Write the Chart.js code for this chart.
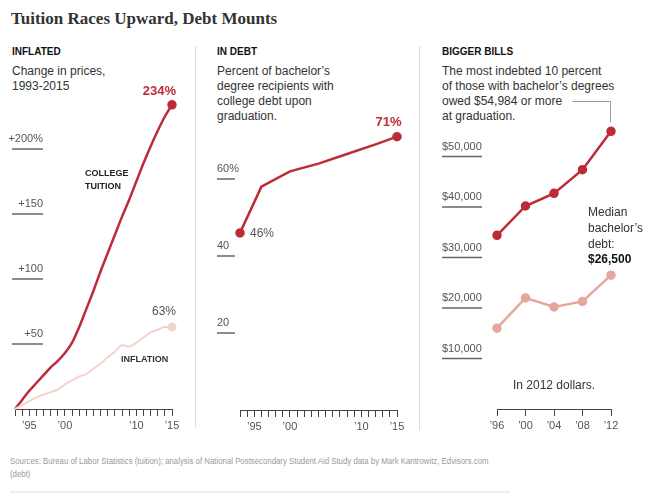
<!DOCTYPE html>
<html>
<head>
<meta charset="utf-8">
<script src="https://cdn.jsdelivr.net/npm/chart.js@4.4.1/dist/chart.umd.min.js"></script>
<style>
  body { margin: 0; background: #fff; }
  #page { position: relative; width: 658px; height: 498px; font-family: "Liberation Sans", Arial, sans-serif; color: #333; overflow: hidden; }
  .abs { position: absolute; white-space: nowrap; }
  .head { top: 46px; font-size: 10px; font-weight: bold; line-height: 12px; color: #111; }
  .desc { top: 63.5px; font-size: 12px; line-height: 15px; color: #333; }
  .tag { font-size: 9px; font-weight: bold; line-height: 12.7px; color: #222; }
  .sep { position: absolute; top: 46px; width: 1px; background: #ddd; }
  canvas { position: absolute; top: 0; }
</style>
</head>
<body>
<div id="page">
  <div class="abs" style="left:11px;top:9px;font:bold 17px 'Liberation Serif','Times New Roman',serif;line-height:20px;color:#333">Tuition Races Upward, Debt Mounts</div>

  <div class="abs head" style="left:12px">INFLATED</div>
  <div class="abs desc" style="left:12px">Change in prices,<br>1993-2015</div>

  <div class="abs head" style="left:217px">IN DEBT</div>
  <div class="abs desc" style="left:217px">Percent of bachelor’s<br>degree recipients with<br>college debt upon<br>graduation.</div>

  <div class="abs head" style="left:442px">BIGGER BILLS</div>
  <div class="abs desc" style="left:442px">The most indebted 10 percent<br>of those with bachelor’s degrees<br>owed $54,984 or more<br>at graduation.</div>

  <div class="sep" style="left:195px;height:382px"></div>
  <div class="sep" style="left:419px;height:384px"></div>

  <canvas id="inflated" width="198" height="440" style="left:0"></canvas>
  <canvas id="indebt" width="218" height="440" style="left:200px"></canvas>
  <canvas id="bills" width="238" height="440" style="left:420px"></canvas>

  <div class="abs tag" style="left:85px;top:167px">COLLEGE<br>TUITION</div>
  <div class="abs tag" style="left:121px;top:353px;color:#333">INFLATION</div>
  <div class="abs" style="left:513px;top:377.5px;font-size:12px;line-height:15px;color:#333">In 2012 dollars.</div>

  <div class="abs" style="left:10px;top:455px;font-size:8.5px;line-height:13px;color:#999;transform:scaleX(0.92);transform-origin:0 0">Sources: Bureau of Labor Statistics (tuition); analysis of National Postsecondary Student Aid Study data by Mark Kantrowitz, Edvisors.com<br>(debt)</div>
  <div class="abs" style="left:10px;top:491px;width:500px;height:2px;background:#eee"></div>
</div>

<script>
"use strict";

// Inflated: change in prices since 1993, percent
const priceYears = [1993, 1994, 1995, 1996, 1997, 1998, 1999, 2000, 2001, 2002, 2003, 2004,
                    2005, 2006, 2007, 2008, 2009, 2010, 2011, 2012, 2013, 2014, 2015];
const tuitionChange = [0, 7, 14, 20, 26, 32, 37, 43, 51, 63, 77, 91,
                       106, 120, 134, 148, 161, 175, 189, 202, 214, 225, 234];
const inflationChange = [0, 3, 6, 9, 11, 13, 15, 19, 22, 25, 27, 31,
                         35, 40, 44, 49, 48, 51, 55, 59, 61, 63, 63];
const priceTicks = [50, 100, 150, 200];
const priceYearLabels = [1995, 2000, 2010, 2015];

// In debt: percent of bachelor's recipients with debt
const debtYears = [1993, 1996, 2000, 2004, 2008, 2012, 2015];
const debtShare = [46, 58, 62, 64, 66.5, 69, 71];
const debtTicks = [20, 40, 60];
const debtYearLabels = [1995, 2000, 2010, 2015];

// Bigger bills: debt at graduation, 2012 dollars
const billYears = [1996, 2000, 2004, 2008, 2012];
const topTenthDebt = [34400, 40200, 42700, 47400, 54984];
const medianDebt = [16000, 22000, 20200, 21300, 26500];
const billTicks = [10000, 20000, 30000, 40000, 50000];

const sans = "'Liberation Sans', Arial, sans-serif";
const red = '#bd2b38';
const pink = '#f4d3ce';
const salmon = '#e6a69d';

Chart.defaults.font.family = sans;
Chart.defaults.color = '#555';

function points(xs, ys) {
    return xs.map((x, i) => ({x: x, y: ys[i]}));
}

function shortYear(v, keep) {
    if (keep && !keep.includes(v)) return '';
    return '\u2019' + String(v).slice(2);
}

// x axis: baseline with ticks hanging below it
function yearAxis(min, max, step, keep) {
    return {
        type: 'linear', min: min, max: max,
        afterFit: s => { s.height = 30; },
        border: {display: true, color: '#444', width: 1},
        grid: {drawOnChartArea: false, drawTicks: true, tickLength: 7, color: '#444', lineWidth: 1},
        ticks: {stepSize: step, autoSkip: false, maxRotation: 0, padding: 3,
                font: {size: 11}, color: '#555', callback: v => shortYear(v, keep)}
    };
}

// short rule with the value written above it, placed by the y scale
function ruleLabels(chart, ticks, fmt, x0, x1, align) {
    const ctx = chart.ctx;
    const y = chart.scales.y;
    ctx.save();
    ctx.font = '11px ' + sans;
    ctx.fillStyle = '#555';
    ctx.strokeStyle = '#666';
    ctx.lineWidth = 1.5;
    ctx.textBaseline = 'middle';
    ctx.textAlign = align;
    ticks.forEach((v, i) => {
        const py = y.getPixelForValue(v);
        ctx.beginPath();
        ctx.moveTo(x0, py);
        ctx.lineTo(x1, py);
        ctx.stroke();
        ctx.fillText(fmt(v, i), align === 'right' ? x1 : x0, py - 10);
    });
    ctx.restore();
}

function lastPoint(chart, ds) {
    const d = chart.getDatasetMeta(ds).data;
    return d[d.length - 1];
}

const baseOptions = {
    responsive: false,
    animation: false,
    plugins: {legend: {display: false}, tooltip: {enabled: false}}
};

new Chart(document.getElementById('inflated'), {
    type: 'line',
    data: {
        datasets: [{
            data: points(priceYears, inflationChange),
            borderColor: pink, backgroundColor: pink, borderWidth: 2,
            pointRadius: c => c.dataIndex === priceYears.length - 1 ? 3.5 : 0,
            cubicInterpolationMode: 'monotone', clip: false
        }, {
            data: points(priceYears, tuitionChange),
            borderColor: red, backgroundColor: red, borderWidth: 2.5,
            pointRadius: c => c.dataIndex === priceYears.length - 1 ? 3.5 : 0,
            cubicInterpolationMode: 'monotone', clip: false
        }]
    },
    options: Object.assign({}, baseOptions, {
        layout: {padding: {left: 15, right: 26, top: 97, bottom: 1}},
        scales: {
            x: yearAxis(1993, 2015, 1, priceYearLabels),
            y: {display: false, min: 0, max: 240}
        }
    }),
    plugins: [{
        id: 'inflatedNotes',
        afterDatasetsDraw(chart) {
            ruleLabels(chart, priceTicks,
                (v, i) => '+' + v + (i === priceTicks.length - 1 ? '%' : ''), 12, 43, 'right');
            const ctx = chart.ctx;
            const t = lastPoint(chart, 1);
            const f = lastPoint(chart, 0);
            ctx.save();
            ctx.textAlign = 'right';
            ctx.textBaseline = 'middle';
            ctx.font = 'bold 13px ' + sans;
            ctx.fillStyle = red;
            ctx.fillText(tuitionChange[tuitionChange.length - 1] + '%', t.x + 4, t.y - 13);
            ctx.font = '12px ' + sans;
            ctx.fillStyle = '#555';
            ctx.fillText(inflationChange[inflationChange.length - 1] + '%', f.x + 4, f.y - 15);
            ctx.restore();
        }
    }]
});

new Chart(document.getElementById('indebt'), {
    type: 'line',
    data: {
        datasets: [{
            data: points(debtYears, debtShare),
            borderColor: red, backgroundColor: red, borderWidth: 2.5,
            pointRadius: c => (c.dataIndex === 0 || c.dataIndex === debtYears.length - 1) ? 3.5 : 0,
            tension: 0, clip: false
        }]
    },
    options: Object.assign({}, baseOptions, {
        layout: {padding: {left: 40, right: 21, top: 121.25, bottom: 0}},
        scales: {
            x: yearAxis(1993, 2015, 1, debtYearLabels),
            y: {display: false, min: 0, max: 75}
        }
    }),
    plugins: [{
        id: 'debtNotes',
        afterDatasetsDraw(chart) {
            ruleLabels(chart, debtTicks,
                (v, i) => v + (i === debtTicks.length - 1 ? '%' : ''), 17, 35, 'left');
            const ctx = chart.ctx;
            const first = chart.getDatasetMeta(0).data[0];
            const last = lastPoint(chart, 0);
            ctx.save();
            ctx.textBaseline = 'middle';
            ctx.textAlign = 'right';
            ctx.font = 'bold 13px ' + sans;
            ctx.fillStyle = red;
            ctx.fillText(debtShare[debtShare.length - 1] + '%', last.x + 4.5, last.y - 14);
            ctx.textAlign = 'left';
            ctx.font = '12px ' + sans;
            ctx.fillStyle = '#555';
            ctx.fillText(debtShare[0] + '%', first.x + 10, first.y + 1);
            ctx.restore();
        }
    }]
});

new Chart(document.getElementById('bills'), {
    type: 'line',
    data: {
        datasets: [{
            data: points(billYears, medianDebt),
            borderColor: salmon, backgroundColor: salmon, borderWidth: 2.5,
            pointRadius: 3.5, tension: 0, clip: false
        }, {
            data: points(billYears, topTenthDebt),
            borderColor: red, backgroundColor: red, borderWidth: 2.5,
            pointRadius: 3.5, tension: 0, clip: false
        }]
    },
    options: Object.assign({}, baseOptions, {
        layout: {padding: {left: 77, right: 47, top: 106, bottom: 1}},
        scales: {
            x: yearAxis(1996, 2012, 4, null),
            y: {display: false, min: 0, max: 60000}
        }
    }),
    plugins: [{
        id: 'billNotes',
        afterDatasetsDraw(chart) {
            ruleLabels(chart, billTicks, v => '$' + v.toLocaleString('en-US'), 22, 62, 'left');
            const ctx = chart.ctx;
            const top = lastPoint(chart, 1);
            const med = lastPoint(chart, 0);
            ctx.save();
            // leader from the description to the top point
            ctx.strokeStyle = '#999';
            ctx.lineWidth = 1;
            const lx = Math.round(top.x) - 0.5;
            const ly = Math.round(top.y - 30) + 0.5;
            ctx.beginPath();
            ctx.moveTo(lx - 38, ly);
            ctx.lineTo(lx, ly);
            ctx.lineTo(lx, top.y - 9);
            ctx.stroke();
            // median note
            ctx.textAlign = 'left';
            ctx.textBaseline = 'middle';
            ctx.font = '12px ' + sans;
            ctx.fillStyle = '#333';
            const nx = med.x - 23;
            ctx.fillText('Median', nx, med.y - 62);
            ctx.fillText('bachelor\u2019s', nx, med.y - 46.5);
            ctx.fillText('debt:', nx, med.y - 30.5);
            ctx.font = 'bold 12px ' + sans;
            ctx.fillStyle = '#111';
            ctx.fillText('$' + medianDebt[medianDebt.length - 1].toLocaleString('en-US'), nx, med.y - 15);
            ctx.restore();
        }
    }]
});
</script>
</body>
</html>
